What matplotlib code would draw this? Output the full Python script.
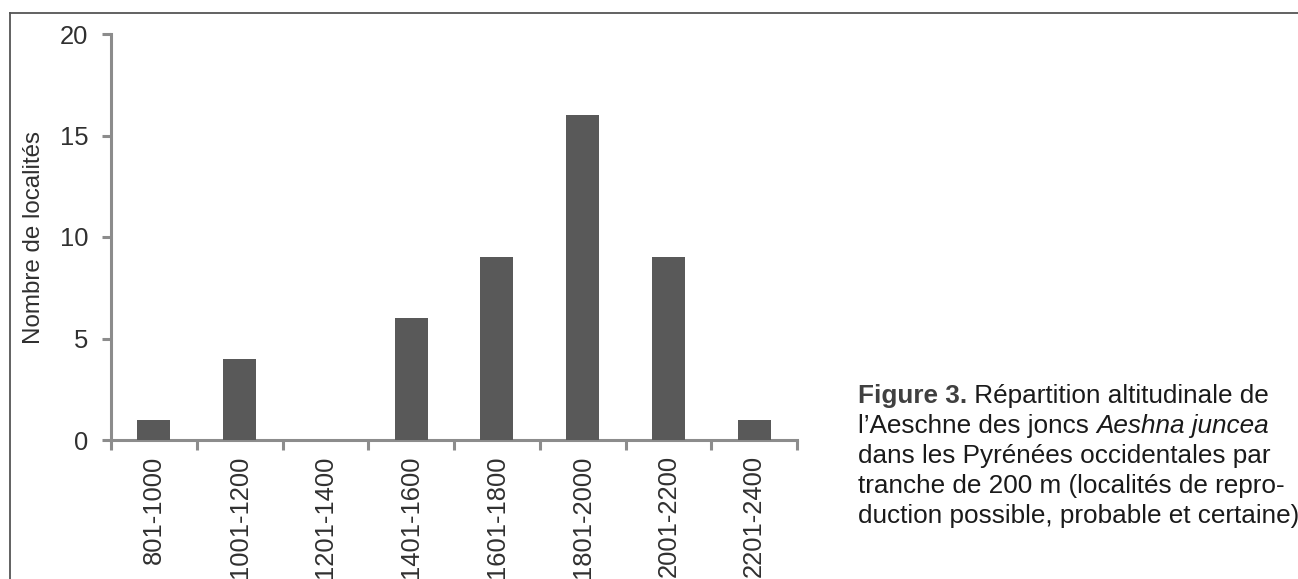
import matplotlib
matplotlib.use('Agg')
import matplotlib.pyplot as plt
from matplotlib.lines import Line2D

# altitude classes (m) and number of localities per class
classes = ['801-1000', '1001-1200', '1201-1400', '1401-1600',
           '1601-1800', '1801-2000', '2001-2200', '2201-2400']
counts = [1, 4, 0, 6, 9, 16, 9, 1]
y_ticks = [0, 5, 10, 15, 20]

plt.rcParams['font.family'] = ['Liberation Sans', 'DejaVu Sans']

W, H = 1298, 579
fig = plt.figure(figsize=(W / 100, H / 100), dpi=100)
ax = fig.add_axes([111 / W, 1 - 440 / H, (797 - 111) / W, (440 - 34) / H])

axis_grey = '#8c8c8c'
ax.bar(range(len(classes)), counts, width=0.385, color='#595959', zorder=3)

ax.set_xlim(-0.5, len(classes) - 0.5)
ax.set_ylim(0, 20)
ax.set_yticks(y_ticks)
ax.set_xticks(range(len(classes)))
ax.set_xticklabels(classes, rotation=90, va='top', ha='center')
# boundary ticks between classes
ax.set_xticks([i - 0.5 for i in range(len(classes) + 1)], minor=True)

ax.tick_params(axis='x', which='major', length=0, pad=11, labelsize=18.4,
               labelcolor='#303030')
ax.tick_params(axis='x', which='minor', length=7, width=2.2, direction='out',
               color=axis_grey)
ax.tick_params(axis='y', length=6.5, width=2.2, direction='out', color=axis_grey,
               pad=10, labelsize=18.4, labelcolor='#303030')

for s in ['top', 'right']:
    ax.spines[s].set_visible(False)
for s in ['left', 'bottom']:
    ax.spines[s].set_color(axis_grey)
    ax.spines[s].set_linewidth(2.2)

ax.set_ylabel('Nombre de localités', fontsize=17.4, color='#303030', labelpad=0)
ax.yaxis.set_label_coords(-(111 - 34) / (797 - 111), 0.5)
ax.yaxis.label.set_va('center')

# page frame (top and left rules)
fig.add_artist(Line2D([10 / W, 1], [1 - 13 / H, 1 - 13 / H], color='#555555', lw=1.3))
fig.add_artist(Line2D([10 / W, 10 / W], [0, 1 - 13 / H], color='#555555', lw=1.3))

# caption, drawn piece by piece so bold and italic runs can be mixed
cap_size = 18.8
cap_lines = [
    [('Figure 3.', 'bold', 'normal', '#404040'), (' Répartition altitudinale de', 'normal', 'normal', '#1a1a1a')],
    [('l’Aeschne des joncs ', 'normal', 'normal', '#1a1a1a'), ('Aeshna juncea', 'normal', 'italic', '#1a1a1a')],
    [('dans les Pyrénées occidentales par', 'normal', 'normal', '#1a1a1a')],
    [('tranche de 200 m (localités de repro-', 'normal', 'normal', '#1a1a1a')],
    [('duction possible, probable et certaine)', 'normal', 'normal', '#1a1a1a')],
]
baselines = [403, 433, 463, 493, 523]

renderer = fig.canvas.get_renderer()
for pieces, yb in zip(cap_lines, baselines):
    x = 858
    for txt, weight, style, col in pieces:
        t = fig.text(x / W, 1 - yb / H, txt, fontsize=cap_size, fontweight=weight,
                     fontstyle=style, color=col, va='baseline', ha='left')
        bb = t.get_window_extent(renderer=renderer)
        x = bb.x1

fig.savefig('out.png', dpi=100)
